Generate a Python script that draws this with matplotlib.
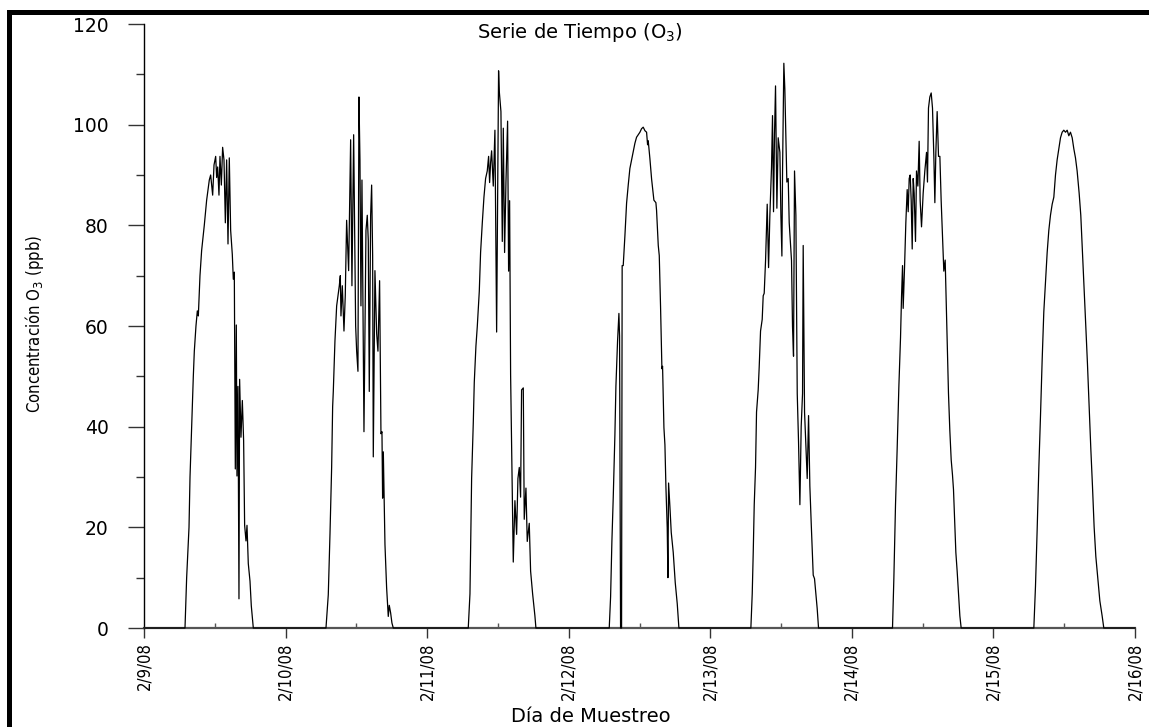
import matplotlib
matplotlib.use("Agg")
import matplotlib.pyplot as plt
from matplotlib.ticker import MultipleLocator, FixedLocator
from matplotlib.patches import Rectangle

# ---------------- data (hour of day, O3 ppb) ----------------
date_labels = ["2/9/08", "2/10/08", "2/11/08", "2/12/08", "2/13/08", "2/14/08", "2/15/08", "2/16/08"]

day1_h = [6.95, 7.23, 7.63, 7.80, 8.08, 8.36, 8.53, 8.81, 9.04, 9.21, 9.49, 9.77, 10.22, 10.62, 11.07, 11.30,
          11.64, 11.87, 12.15, 12.32, 12.49, 12.71, 12.88, 13.11, 13.33, 13.56, 13.79, 14.01, 14.24, 14.46,
          14.69, 14.97, 15.14, 15.31, 15.48, 15.65, 15.76, 15.93, 16.10, 16.21, 16.44, 16.67, 16.89, 17.06,
          17.29, 17.46, 17.68, 17.97, 18.19, 18.53]
day1_v = [0, 10, 20, 30, 40, 50, 55, 60, 63, 62, 70, 75, 80, 85, 89, 90,
          86, 92, 93.7, 89.5, 91.6, 86, 93.7, 88, 95.5, 93, 80.5, 93, 76.3, 93.4,
          79, 74.2, 69.3, 70.7, 31.6, 60.2, 30.2, 48, 5.8, 49.4, 37.9, 45.2, 37.2, 20.4,
          17.3, 20.4, 12.8, 9.3, 4.4, 0]

day2_h = [6.85, 7.24, 7.53, 7.81, 7.98, 8.09, 8.37, 8.66, 8.88, 9.11, 9.28, 9.39, 9.62, 9.90, 10.12, 10.35,
          10.69, 11.03, 11.25, 11.54, 11.88, 12.05, 12.27, 12.44, 12.61, 12.78, 12.95, 13.29, 13.63, 13.85,
          14.02, 14.19, 14.42, 14.59, 14.76, 14.87, 15.15, 15.44, 15.66, 15.94, 16.17, 16.34, 16.45, 16.57,
          16.85, 17.13, 17.41, 17.58, 17.81, 18.03, 18.26]
day2_v = [0, 6.6, 18.7, 31.9, 44, 47, 57, 64, 66, 68, 70, 62, 68, 59, 66, 81,
          71, 97, 68, 98, 60, 55, 51, 105.5, 93, 64, 89, 39, 79, 82,
          77, 47, 82, 88, 74, 34, 71, 58.5, 55, 69, 38.6, 39, 25.8, 35,
          16.6, 8, 2.3, 4.5, 3, 1, 0]

day3_h = [6.97, 7.26, 7.54, 7.82, 7.99, 8.27, 8.50, 8.84, 9.06, 9.35, 9.63, 9.91, 10.19, 10.42, 10.59, 10.76,
          10.93, 11.21, 11.49, 11.78, 12.11, 12.23, 12.51, 12.74, 12.91, 13.13, 13.36, 13.64, 13.81, 13.98,
          14.15, 14.60, 14.88, 15.17, 15.39, 15.62, 15.84, 16.01, 16.30, 16.46, 16.75, 16.97, 17.31, 17.54,
          17.88, 18.27, 18.44]
day3_v = [0, 6.8, 29.7, 40.7, 48.8, 56, 59.9, 66.9, 74.6, 80.5, 85.6, 89.3, 90.8, 93.7, 88.5, 92.5,
          94.8, 87.8, 98.9, 58.8, 110.7, 106.6, 102.6, 76.8, 99.3, 74.6, 88.6, 100.7, 70.9, 84.9,
          50.3, 13.1, 25.3, 18.6, 29.7, 31.9, 26, 47.3, 47.7, 21.6, 27.8, 17.2, 20.8, 11.3,
          6.8, 2.4, 0]

day4_h = [6.87, 7.10, 7.32, 7.55, 7.83, 8.00, 8.28, 8.51, 8.62, 8.79, 8.96, 9.06, 9.24, 9.53, 9.81, 10.09,
          10.37, 10.66, 10.94, 11.22, 11.50, 11.79, 12.07, 12.35, 12.63, 12.92, 13.20, 13.37, 13.48, 13.76,
          14.05, 14.44, 14.78, 14.89, 15.18, 15.35, 15.57, 15.80, 15.91, 16.03, 16.14, 16.31, 16.48, 16.70,
          16.82, 16.93, 17.16, 17.38, 17.72, 18.06, 18.40, 18.68]
day4_v = [0, 6.2, 17.2, 26, 38.4, 48, 57, 62.5, 58, 0, 0, 72, 72, 78, 84.4, 88,
          91.3, 93, 94.7, 96.3, 97.5, 98, 98.5, 99.2, 99.5, 98.8, 98.5, 96, 96.8, 93.3,
          89.2, 85, 84.5, 83, 76, 74, 63.8, 51.5, 52, 46, 39.8, 36.4, 28, 19.9,
          10, 28.8, 24, 19, 15, 9, 4.8, 0]

day5_h = [6.88, 7.11, 7.28, 7.45, 7.67, 7.84, 8.12, 8.29, 8.52, 8.80, 8.97, 9.14, 9.37, 9.65, 9.88, 10.10,
          10.38, 10.55, 10.72, 10.89, 11.06, 11.29, 11.51, 11.80, 11.97, 12.14, 12.25, 12.47, 12.64, 12.81,
          12.98, 13.21, 13.38, 13.61, 13.77, 13.94, 14.11, 14.28, 14.51, 14.74, 14.96, 15.19, 15.41, 15.64,
          15.75, 15.98, 16.20, 16.43, 16.66, 16.88, 17.11, 17.45, 17.67, 17.90, 18.12, 18.35]
day5_v = [0, 6.8, 15, 24.5, 31.9, 42.9, 47.3, 51.8, 59, 61.3, 66, 66.5, 73, 84.2, 71.6, 82,
          91.5, 101.8, 82.7, 98.2, 107.7, 83.4, 97.4, 94.5, 82, 73.9, 90.8, 112.2, 107, 98.2,
          88.6, 89.3, 80.5, 76, 73, 59.9, 54, 90.8, 82, 46.6, 37, 24.5, 40, 46.6,
          76, 42.9, 36.3, 29.7, 42.2, 28.2, 20.8, 10.5, 9.8, 6.8, 3.9, 0]

day6_h = [6.89, 7.12, 7.40, 7.68, 7.97, 8.25, 8.42, 8.59, 8.70, 8.93, 9.15, 9.38, 9.55, 9.72, 9.89, 10.06,
          10.23, 10.40, 10.56, 10.79, 10.96, 11.19, 11.41, 11.58, 11.81, 12.09, 12.37, 12.66, 12.82, 12.99,
          13.22, 13.45, 13.67, 13.90, 14.07, 14.24, 14.46, 14.69, 14.92, 15.14, 15.37, 15.59, 15.82, 15.99,
          16.21, 16.38, 16.61, 16.84, 17.06, 17.23, 17.46, 17.63, 17.85, 18.08, 18.31, 18.53]
day6_v = [0, 9.8, 24.5, 35.6, 48, 57.7, 65.8, 72, 63.5, 71.6, 80.5, 87.1, 82.7, 89.3, 90, 84.9,
          75.3, 89.3, 86.4, 76.8, 90.8, 87.8, 96.7, 84.9, 79.7, 86.4, 90.8, 94.5, 88.6, 103.3,
          105.5, 106.3, 103.3, 93.7, 84.5, 94.5, 102.6, 93.7, 93.7, 84.9, 77.5, 70.9, 73.1, 65,
          54, 46.6, 39.2, 33.4, 30.4, 27.5, 20.1, 15, 11.3, 6.8, 2.4, 0]

day7_h = [6.85, 7.13, 7.41, 7.70, 7.98, 8.26, 8.54, 8.83, 9.11, 9.39, 9.67, 9.96, 10.24, 10.52, 10.80, 11.09,
          11.37, 11.65, 11.93, 12.22, 12.50, 12.78, 13.06, 13.35, 13.63, 13.91, 14.19, 14.53, 14.81, 15.10,
          15.38, 15.66, 15.94, 16.23, 16.51, 16.79, 17.07, 17.36, 17.70, 18.04, 18.43, 18.71]
day7_v = [0, 8.3, 19.4, 31.9, 42.2, 53.2, 62.8, 68.7, 74.6, 79, 82, 84.2, 85.6, 90, 93, 95.2,
          97.4, 98.5, 98.9, 98.5, 98.9, 97.8, 98.5, 97.4, 95.2, 93.4, 90.8, 86.4, 82, 74.6,
          67.2, 59.9, 52.5, 43.7, 35.6, 28.2, 20.1, 14.2, 9.8, 5.4, 2.4, 0]

days_h = [day1_h, day2_h, day3_h, day4_h, day5_h, day6_h, day7_h]
days_v = [day1_v, day2_v, day3_v, day4_v, day5_v, day6_v, day7_v]

# ---------------- build continuous series (days since 2/9/08) ----------------
t = [0.0]
o3 = [0.0]
for i, (hh, vv) in enumerate(zip(days_h, days_v)):
    t += [i + h / 24.0 for h in hh]
    o3 += list(vv)
t.append(float(len(days_h)))
o3.append(0.0)

# ---------------- figure ----------------
W, H = 1149, 727
fig = plt.figure(figsize=(W / 100, H / 100), dpi=100)
fig.patch.set_facecolor("white")

ax = fig.add_axes([144 / W, 1 - 628 / H, (1135 - 144) / W, (628 - 24) / H])
ax.plot(t, o3, color="black", lw=0.9, clip_on=False, zorder=3)

ax.set_xlim(0, 7)
ax.set_ylim(0, 120)

for s in ("top", "right"):
    ax.spines[s].set_visible(False)
ax.spines["left"].set_color("black")
ax.spines["left"].set_linewidth(1.0)
ax.spines["bottom"].set_color("#555555")
ax.spines["bottom"].set_linewidth(1.6)

ax.yaxis.set_major_locator(MultipleLocator(20))
ax.yaxis.set_minor_locator(MultipleLocator(10))
ax.xaxis.set_major_locator(FixedLocator(range(len(date_labels))))
ax.xaxis.set_minor_locator(FixedLocator([i + 0.5 for i in range(len(date_labels) - 1)]))
ax.set_xticklabels(date_labels)

ax.tick_params(axis="y", which="major", direction="out", length=11.5, width=1.0,
               color="#333333", pad=14, labelsize=13.5)
ax.tick_params(axis="y", which="minor", direction="out", length=5.8, width=1.0, color="#333333")
ax.tick_params(axis="x", which="major", direction="out", length=7, width=1.0,
               color="#333333", pad=3.5, labelsize=12)
ax.tick_params(axis="x", which="minor", direction="in", length=3.6, width=1.0, color="#555555")

for lab in ax.get_yticklabels():
    lab.set_family("DejaVu Sans")
for lab in ax.get_xticklabels():
    lab.set_rotation(90)
    lab.set_family("DejaVu Sans")
    lab.set_fontstretch("condensed")
    lab.set_va("top")
    lab.set_ha("center")

# titles and labels
fig.text(580 / W, 1 - 32 / H, "Serie de Tiempo (O$_3$)", ha="center", va="center",
         fontsize=14, family="DejaVu Sans")
fig.text(591 / W, 1 - 717 / H, "Día de Muestreo", ha="center", va="center",
         fontsize=14, family="DejaVu Sans")
fig.text(35 / W, 1 - 324 / H, "Concentración O$_3$ (ppb)", ha="center", va="center",
         rotation=90, fontsize=12, family="DejaVu Sans", fontstretch="condensed")

# black frame (left and top)
fig.add_artist(Rectangle((7 / W, 0), 5 / W, (H - 10) / H, transform=fig.transFigure,
                         facecolor="black", edgecolor="none"))
fig.add_artist(Rectangle((7 / W, 1 - 15 / H), (W - 7) / W, 5 / H, transform=fig.transFigure,
                         facecolor="black", edgecolor="none"))

fig.savefig("out.png", dpi=100)
